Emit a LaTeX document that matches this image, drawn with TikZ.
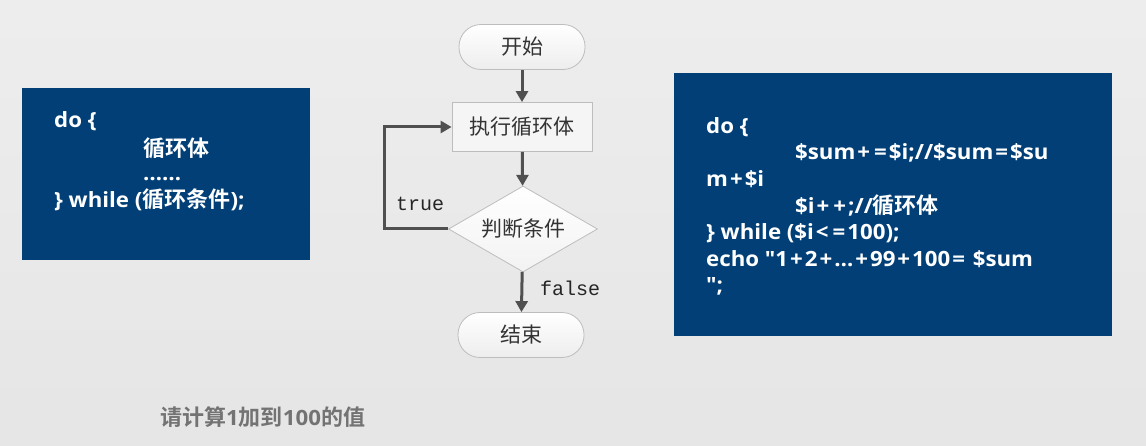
\documentclass[tikz,border=0pt]{standalone}
\usepackage{fontspec}
\setmainfont{Noto Sans CJK SC}
\newfontfamily\cjkb{Noto Sans CJK SC}[BoldFont={* Bold}]
\newfontfamily\latb{Open Sans}[FakeStretch=1.06]
\newfontfamily\monof{Liberation Mono}
\newcommand\zh[1]{{\cjkb\bfseries\fontsize{22}{24}\selectfont #1}}
\newcommand\pl{\kern2pt+\kern2pt}
\newcommand\eq{\kern2pt=\kern2pt}
\newcommand\lt{\kern2pt<\kern2pt}
\usetikzlibrary{shapes.geometric,arrows.meta}
\definecolor{boxblue}{HTML}{023F77}
\definecolor{arrowgray}{HTML}{505050}
\definecolor{edgegray}{HTML}{BDBDBD}
\begin{document}
\begin{tikzpicture}[x=1pt,y=-1pt,
  codebox/.style={fill=boxblue,draw=none},
  codetxt/.style={anchor=base west,inner sep=0pt,text=white,font=\latb\bfseries\fontsize{21}{24}\selectfont},
  terminal/.style={draw=edgegray,line width=0.8pt,rounded corners=22pt,minimum width=126pt,minimum height=45pt,inner sep=0pt,top color=white,bottom color=white!93!black,font=\fontsize{21}{24}\selectfont,text=black!80},
  process/.style={draw=edgegray,line width=0.8pt,fill=white!96!black,minimum width=140pt,minimum height=49pt,inner sep=0pt,font=\fontsize{21}{24}\selectfont,text=black!80},
  decision/.style={diamond,aspect=1.73,draw=edgegray,line width=0.8pt,top color=white,bottom color=white!95!black,minimum width=149pt,minimum height=86pt,inner sep=0pt,font=\fontsize{21}{24}\selectfont,text=black!80},
  flow/.style={draw=arrowgray,line width=3pt,-{Triangle[length=11pt,width=12pt]}},
  lbl/.style={inner sep=0pt,anchor=base west,font=\monof\fontsize{20}{24}\selectfont,text=black!85}]
\shade[top color=white!93!black,bottom color=white!90!black] (0,0) rectangle (1146,446);
\useasboundingbox (0,0) rectangle (1146,446);
% left box
\fill[codebox] (22,88) rectangle (310,260);
\node[codetxt] (l1) at (54,128) {do \{};
\node[codetxt] (l2) at (143,157) {\zh{循环体}};
\node[codetxt] (l3) at (143,181) {……};
\node[codetxt] (l4) at (54,208) {\} while (\zh{循环条件});};
% right box
\fill[codebox] (674,73) rectangle (1112,336);
\node[codetxt] (r1) at (706,134) {do \{};
\node[codetxt] (r2) at (795,160) {\$sum\pl\eq\$i;//\$sum\eq\$su};
\node[codetxt] (r3) at (706,187) {m\pl\$i};
\node[codetxt] (r4) at (795,214) {\$i\pl\pl;//\zh{循环体}};
\node[codetxt] (r5) at (706,240) {\} while (\$i\lt\eq100);};
\node[codetxt] (r6) at (706,267) {echo "1\pl2\pl…\pl99\pl100\eq{} \$sum};
\node[codetxt] (r7) at (706,293) {";};
% flowchart
\node[terminal] (start) at (522,47) {开始};
\node[process] (body) at (522,127) {执行循环体};
\node[decision] (cond) at (523,229) {判断条件};
\node[terminal] (stop) at (521,335) {结束};
\coordinate (lp1) at (384,229);
\coordinate (lp2) at (384,127);
\draw[flow] (start) -- (body);
\draw[flow] (body) -- (cond);
\draw[flow] (cond) -- (stop);
\draw[flow] (cond.west) -- (lp1) -- (lp2) -- (body.west);
\node[lbl] (t) at (396,211) {true};
\node[lbl] (f) at (540,296) {false};
% bottom caption
\node[anchor=base west,inner sep=0pt,text=black!55,font=\latb\bfseries\fontsize{21}{24}\selectfont] (cap) at (160,425) {\zh{请计算}1\zh{加到}100\zh{的值}};
\end{tikzpicture}
\end{document}
